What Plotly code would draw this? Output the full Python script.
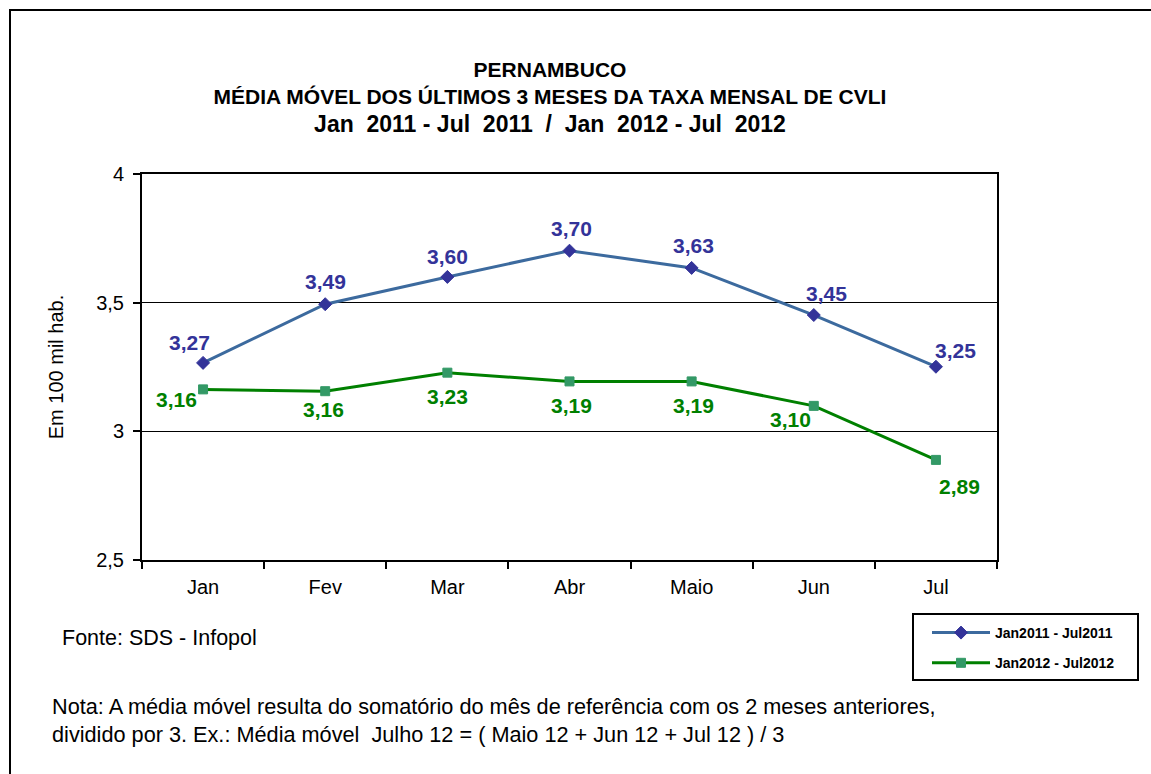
import plotly.graph_objects as go

months = ["Jan", "Fev", "Mar", "Abr", "Maio", "Jun", "Jul"]
serie_2011 = [3.266, 3.494, 3.600, 3.702, 3.635, 3.452, 3.251]
serie_2012 = [3.163, 3.156, 3.228, 3.194, 3.194, 3.099, 2.889]
name_2011 = "Jan2011 - Jul2011"
name_2012 = "Jan2012 - Jul2012"
y_ticks = [2.5, 3, 3.5, 4]

# label offsets (pixels) relative to each marker
shift_2011 = [(-14, 20), (0, 23), (0, 20), (2, 22), (2, 22), (13, 22), (20, 16)]
shift_2012 = [(-27, -10), (-2, -18), (0, -24), (2, -24), (2, -24), (-23, -14), (24, -27)]

FONT = "Liberation Sans, Arial, sans-serif"
W, H = 1151, 774
L, R, T, B = 142, 997, 174, 560
C2011_TXT, C2012_TXT = "#333399", "#008000"


def px(xp):
    return (xp - L) / (R - L)


def py(yp):
    return (B - yp) / (B - T)


fig = go.Figure()
fig.add_trace(go.Scatter(
    x=months, y=serie_2011, name=name_2011, mode="lines+markers", legendgroup="a",
    line=dict(color="#3C6A9E", width=3),
    marker=dict(symbol="diamond", size=10, color="#333399", line=dict(color="#333399", width=1)),
))
fig.add_trace(go.Scatter(
    x=months, y=serie_2012, name=name_2012, mode="lines+markers", legendgroup="b",
    line=dict(color="#008000", width=3),
    marker=dict(symbol="square", size=9, color="#339966", line=dict(color="#339966", width=1)),
))

annotations = []
for serie, shifts, col in ((serie_2011, shift_2011, C2011_TXT), (serie_2012, shift_2012, C2012_TXT)):
    for m, v, (dx, dy) in zip(months, serie, shifts):
        annotations.append(dict(
            x=m, y=v, xref="x", yref="y", text=f"{v:.2f}".replace(".", ","),
            showarrow=False, xshift=dx, yshift=dy, xanchor="center", yanchor="middle",
            font=dict(family=FONT, size=21, color=col, weight="bold"),
        ))

annotations += [
    dict(text="Fonte: SDS - Infopol", xref="paper", yref="paper",
         x=px(60), y=py(638), xanchor="left", yanchor="middle",
         showarrow=False, font=dict(size=21.5)),
    dict(text="Nota: A média móvel resulta do somatório do mês de referência com os 2 meses anteriores,<br>dividido por 3. Ex.: Média móvel  Julho 12 = ( Maio 12 + Jun 12 + Jul 12 ) / 3",
         xref="paper", yref="paper", align="left",
         x=px(50), y=py(720), xanchor="left", yanchor="middle",
         showarrow=False, font=dict(size=21.7)),
]

fig.update_layout(
    width=W, height=H,
    margin=dict(l=L, r=W - R, t=T, b=H - B),
    paper_bgcolor="white", plot_bgcolor="white",
    separators=",.",
    font=dict(family=FONT, size=20, color="black"),
    showlegend=True,
    legend=dict(
        x=px(927), y=py(617), xanchor="left", yanchor="top",
        borderwidth=0, bgcolor="rgba(0,0,0,0)",
        font=dict(family=FONT, size=14, color="black", weight="bold"),
        itemwidth=58, tracegroupgap=9,
    ),
    title=dict(
        text="PERNAMBUCO<br>MÉDIA MÓVEL DOS ÚLTIMOS 3 MESES DA TAXA MENSAL DE CVLI<br><span style='font-size:23px'>Jan  2011 - Jul  2011  /  Jan  2012 - Jul  2012</span>",
        x=550 / W, xanchor="center", y=1 - 77 / H, yanchor="top",
        font=dict(family=FONT, size=21, color="black", weight="bold"),
    ),
    xaxis=dict(
        type="category", range=[-0.5, 6.5], tickson="boundaries",
        ticks="outside", ticklen=7, tickwidth=2, tickcolor="black",
        showline=True, linecolor="black", linewidth=2, mirror=True,
        showgrid=False, tickfont=dict(size=20), ticklabelstandoff=8,
    ),
    yaxis=dict(
        range=[2.5, 4], tickvals=y_ticks, ticks="outside", ticklen=7, tickwidth=2,
        tickcolor="black", showline=True, linecolor="black", linewidth=2, mirror=True,
        showgrid=True, gridcolor="black", gridwidth=1, zeroline=False,
        tickfont=dict(size=20), ticklabelstandoff=5,
        title=dict(text="Em 100 mil hab.", font=dict(size=20), standoff=27),
    ),
    annotations=annotations,
    shapes=[
        dict(type="rect", xref="paper", yref="paper",
             x0=px(10), x1=px(1160), y0=py(790), y1=py(10),
             line=dict(color="black", width=2), fillcolor="rgba(0,0,0,0)", layer="below"),
        dict(type="rect", xref="paper", yref="paper",
             x0=px(913), x1=px(1138), y0=py(680), y1=py(614),
             line=dict(color="black", width=2), fillcolor="rgba(0,0,0,0)", layer="below"),
    ],
)

fig.write_html("out.html", config={"displayModeBar": False},
               post_script="document.body.style.margin='0';document.body.style.overflow='hidden';")
